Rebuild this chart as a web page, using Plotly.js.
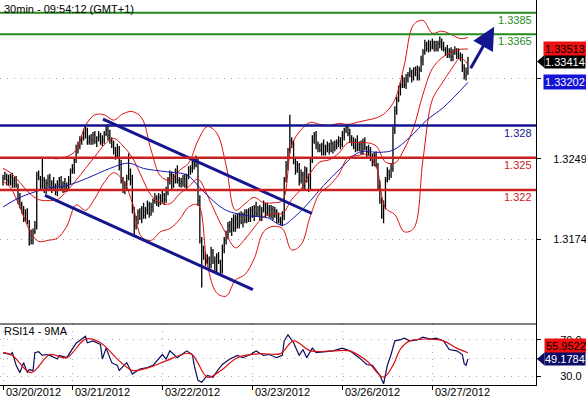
<!DOCTYPE html>
<html><head><meta charset="utf-8">
<script src="https://cdn.plot.ly/plotly-3.0.1.min.js"></script>
<style>html,body{margin:0;padding:0;background:#fff;}#chart{width:586px;height:397px;}</style>
</head><body><div id="chart"></div>
<script>
// ---------- DATA ----------
const chartTitle = '30min - 09:54:12 (GMT+1)';
const rsiTitle = 'RSI14 - 9MA';
const dayIdx = [0, 37, 85, 133, 181, 229];
const dayLabels = ['03/20/2012', '03/21/2012', '03/22/2012', '03/23/2012', '03/26/2012', '03/27/2012'];
const priceTicks = [1.3174, 1.3249, 1.3324];
const priceTickText = ['1.3174', '1.3249', ''];   // 1.3324 sits under the MA tag
const rsiTicks = [30, 50, 70];
const rsiTickText = ['30.0', '', '70.0'];          // 50.0 sits under the RSI tag

const barOpen = [1.3228,1.3231,1.3233,1.3229,1.3227,1.3232,1.3226,1.3229,1.3224,1.3212,
1.3206,1.3201,1.3194,1.3199,1.3190,1.3178,1.3173,1.3181,1.3187,1.3234,
1.3231,1.3224,1.3229,1.3220,1.3226,1.3231,1.3222,1.3227,1.3223,1.3218,
1.3225,1.3229,1.3222,1.3226,1.3221,1.3224,1.3229,1.3237,1.3240,1.3248,
1.3257,1.3262,1.3266,1.3268,1.3273,1.3276,1.3265,1.3268,1.3266,1.3271,
1.3265,1.3268,1.3270,1.3265,1.3267,1.3272,1.3276,1.3271,1.3266,1.3262,
1.3257,1.3252,1.3259,1.3243,1.3229,1.3220,1.3224,1.3231,1.3238,1.3229,
1.3201,1.3187,1.3192,1.3199,1.3194,1.3203,1.3196,1.3201,1.3206,1.3198,
1.3204,1.3210,1.3212,1.3208,1.3213,1.3210,1.3215,1.3211,1.3218,1.3229,
1.3234,1.3224,1.3231,1.3238,1.3229,1.3226,1.3227,1.3231,1.3224,1.3233,
1.3237,1.3240,1.3246,1.3243,1.3248,1.3210,1.3173,1.3164,1.3159,1.3153,
1.3156,1.3150,1.3162,1.3154,1.3147,1.3158,1.3153,1.3145,1.3164,1.3173,
1.3178,1.3187,1.3182,1.3192,1.3184,1.3194,1.3188,1.3196,1.3190,1.3197,
1.3192,1.3199,1.3194,1.3201,1.3196,1.3204,1.3198,1.3202,1.3195,1.3201,
1.3206,1.3199,1.3203,1.3197,1.3202,1.3196,1.3200,1.3194,1.3192,1.3190,
1.3196,1.3229,1.3243,1.3257,1.3266,1.3262,1.3248,1.3238,1.3243,1.3229,
1.3234,1.3224,1.3238,1.3231,1.3224,1.3248,1.3266,1.3271,1.3262,1.3259,
1.3257,1.3262,1.3255,1.3259,1.3261,1.3257,1.3263,1.3259,1.3261,1.3264,
1.3266,1.3262,1.3271,1.3276,1.3278,1.3273,1.3268,1.3265,1.3260,1.3266,
1.3259,1.3262,1.3257,1.3265,1.3259,1.3255,1.3257,1.3250,1.3246,1.3252,
1.3243,1.3224,1.3210,1.3196,1.3206,1.3229,1.3237,1.3234,1.3240,1.3276,
1.3294,1.3304,1.3313,1.3318,1.3322,1.3318,1.3324,1.3327,1.3330,1.3325,
1.3329,1.3332,1.3326,1.3332,1.3341,1.3349,1.3355,1.3352,1.3356,1.3353,
1.3357,1.3354,1.3352,1.3356,1.3358,1.3354,1.3351,1.3350,1.3346,1.3349,
1.3344,1.3348,1.3350,1.3347,1.3345,1.3343,1.3334,1.3327,1.3330];

const barHigh = [1.3234,1.3237,1.3235,1.3234,1.3235,1.3236,1.3232,1.3233,1.3226,1.3217,
1.3209,1.3205,1.3202,1.3203,1.3192,1.3183,1.3184,1.3191,1.3237,1.3238,
1.3233,1.3250,1.3232,1.3230,1.3234,1.3235,1.3229,1.3232,1.3226,1.3229,
1.3232,1.3233,1.3228,1.3231,1.3227,1.3233,1.3240,1.3244,1.3250,1.3262,
1.3265,1.3270,1.3271,1.3277,1.3279,1.3278,1.3271,1.3272,1.3274,1.3275,
1.3270,1.3275,1.3273,1.3271,1.3275,1.3280,1.3281,1.3276,1.3269,1.3266,
1.3260,1.3263,1.3261,1.3248,1.3232,1.3228,1.3234,1.3254,1.3240,1.3234,
1.3204,1.3196,1.3202,1.3203,1.3205,1.3208,1.3204,1.3210,1.3209,1.3208,
1.3212,1.3217,1.3215,1.3217,1.3216,1.3219,1.3217,1.3223,1.3232,1.3238,
1.3237,1.3235,1.3240,1.3243,1.3232,1.3231,1.3234,1.3235,1.3235,1.3242,
1.3243,1.3250,1.3249,1.3252,1.3250,1.3215,1.3176,1.3168,1.3162,1.3160,
1.3158,1.3167,1.3165,1.3158,1.3161,1.3162,1.3155,1.3169,1.3176,1.3182,
1.3190,1.3191,1.3194,1.3197,1.3197,1.3198,1.3199,1.3200,1.3199,1.3202,
1.3202,1.3203,1.3204,1.3205,1.3206,1.3209,1.3205,1.3206,1.3204,1.3210,
1.3208,1.3208,1.3206,1.3206,1.3205,1.3204,1.3202,1.3199,1.3195,1.3200,
1.3232,1.3247,1.3259,1.3290,1.3269,1.3266,1.3251,1.3247,1.3245,1.3239,
1.3237,1.3242,1.3241,1.3235,1.3250,1.3271,1.3274,1.3275,1.3265,1.3263,
1.3264,1.3267,1.3262,1.3265,1.3264,1.3267,1.3265,1.3266,1.3267,1.3270,
1.3269,1.3275,1.3278,1.3281,1.3281,1.3277,1.3271,1.3269,1.3268,1.3271,
1.3265,1.3266,1.3268,1.3269,1.3261,1.3262,1.3260,1.3254,1.3255,1.3256,
1.3245,1.3229,1.3213,1.3210,1.3232,1.3241,1.3239,1.3245,1.3279,1.3298,
1.3307,1.3317,1.3320,1.3327,1.3325,1.3328,1.3330,1.3334,1.3332,1.3334,
1.3335,1.3336,1.3335,1.3345,1.3351,1.3360,1.3358,1.3360,1.3359,1.3361,
1.3359,1.3359,1.3359,1.3363,1.3361,1.3358,1.3353,1.3355,1.3352,1.3353,
1.3351,1.3354,1.3352,1.3352,1.3348,1.3347,1.3337,1.3334,1.3344];

const barLow = [1.3224,1.3229,1.3224,1.3224,1.3224,1.3222,1.3222,1.3222,1.3207,1.3203,
1.3198,1.3190,1.3190,1.3188,1.3168,1.3169,1.3169,1.3179,1.3183,1.3229,
1.3219,1.3221,1.3217,1.3216,1.3222,1.3220,1.3217,1.3220,1.3215,1.3214,
1.3221,1.3220,1.3217,1.3218,1.3218,1.3220,1.3225,1.3235,1.3235,1.3245,
1.3254,1.3258,1.3262,1.3266,1.3268,1.3262,1.3262,1.3262,1.3262,1.3263,
1.3260,1.3265,1.3262,1.3261,1.3263,1.3270,1.3266,1.3263,1.3259,1.3253,
1.3248,1.3250,1.3238,1.3226,1.3217,1.3216,1.3220,1.3229,1.3224,1.3198,
1.3178,1.3183,1.3188,1.3192,1.3189,1.3193,1.3193,1.3197,1.3194,1.3196,
1.3199,1.3207,1.3205,1.3204,1.3206,1.3208,1.3206,1.3208,1.3215,1.3225,
1.3220,1.3222,1.3226,1.3226,1.3223,1.3222,1.3223,1.3222,1.3219,1.3230,
1.3234,1.3236,1.3239,1.3241,1.3205,1.3170,1.3129,1.3155,1.3149,1.3151,
1.3145,1.3147,1.3151,1.3143,1.3143,1.3151,1.3140,1.3142,1.3161,1.3169,
1.3174,1.3180,1.3177,1.3181,1.3181,1.3184,1.3184,1.3188,1.3185,1.3189,
1.3189,1.3190,1.3190,1.3194,1.3191,1.3195,1.3195,1.3191,1.3191,1.3199,
1.3194,1.3196,1.3194,1.3193,1.3192,1.3194,1.3189,1.3189,1.3187,1.3186,
1.3192,1.3227,1.3238,1.3254,1.3259,1.3244,1.3234,1.3236,1.3224,1.3226,
1.3220,1.3220,1.3227,1.3218,1.3219,1.3245,1.3263,1.3258,1.3255,1.3255,
1.3252,1.3252,1.3252,1.3255,1.3253,1.3255,1.3254,1.3256,1.3258,1.3260,
1.3258,1.3260,1.3266,1.3273,1.3270,1.3264,1.3261,1.3258,1.3255,1.3256,
1.3256,1.3253,1.3253,1.3257,1.3250,1.3252,1.3247,1.3242,1.3242,1.3241,
1.3219,1.3207,1.3193,1.3189,1.3202,1.3227,1.3229,1.3231,1.3237,1.3272,
1.3290,1.3302,1.3308,1.3315,1.3315,1.3314,1.3320,1.3325,1.3320,1.3322,
1.3326,1.3322,1.3322,1.3330,1.3336,1.3346,1.3349,1.3348,1.3349,1.3351,
1.3349,1.3349,1.3349,1.3352,1.3350,1.3349,1.3345,1.3343,1.3343,1.3340,
1.3340,1.3346,1.3342,1.3342,1.3340,1.3330,1.3323,1.3322,1.3327];

const barClose = [1.3231,1.3233,1.3229,1.3227,1.3232,1.3226,1.3229,1.3224,1.3212,1.3206,
1.3201,1.3194,1.3199,1.3190,1.3178,1.3173,1.3181,1.3187,1.3234,1.3231,
1.3224,1.3229,1.3220,1.3226,1.3231,1.3222,1.3227,1.3223,1.3218,1.3225,
1.3229,1.3222,1.3226,1.3221,1.3224,1.3229,1.3237,1.3240,1.3248,1.3257,
1.3262,1.3266,1.3268,1.3273,1.3276,1.3265,1.3268,1.3266,1.3271,1.3265,
1.3268,1.3270,1.3265,1.3267,1.3272,1.3276,1.3271,1.3266,1.3262,1.3257,
1.3252,1.3259,1.3243,1.3229,1.3220,1.3224,1.3231,1.3238,1.3229,1.3201,
1.3187,1.3192,1.3199,1.3194,1.3203,1.3196,1.3201,1.3206,1.3198,1.3204,
1.3210,1.3212,1.3208,1.3213,1.3210,1.3215,1.3211,1.3218,1.3229,1.3234,
1.3224,1.3231,1.3238,1.3229,1.3226,1.3227,1.3231,1.3224,1.3233,1.3237,
1.3240,1.3246,1.3243,1.3248,1.3210,1.3173,1.3164,1.3159,1.3153,1.3156,
1.3150,1.3162,1.3154,1.3147,1.3158,1.3153,1.3145,1.3164,1.3173,1.3178,
1.3187,1.3182,1.3192,1.3184,1.3194,1.3188,1.3196,1.3190,1.3197,1.3192,
1.3199,1.3194,1.3201,1.3196,1.3204,1.3198,1.3202,1.3195,1.3201,1.3206,
1.3199,1.3203,1.3197,1.3202,1.3196,1.3200,1.3194,1.3192,1.3190,1.3196,
1.3229,1.3243,1.3257,1.3266,1.3262,1.3248,1.3238,1.3243,1.3229,1.3234,
1.3224,1.3238,1.3231,1.3224,1.3248,1.3266,1.3271,1.3262,1.3259,1.3257,
1.3262,1.3255,1.3259,1.3261,1.3257,1.3263,1.3259,1.3261,1.3264,1.3266,
1.3262,1.3271,1.3276,1.3278,1.3273,1.3268,1.3265,1.3260,1.3266,1.3259,
1.3262,1.3257,1.3265,1.3259,1.3255,1.3257,1.3250,1.3246,1.3252,1.3243,
1.3224,1.3210,1.3196,1.3206,1.3229,1.3237,1.3234,1.3240,1.3276,1.3294,
1.3304,1.3313,1.3318,1.3322,1.3318,1.3324,1.3327,1.3330,1.3325,1.3329,
1.3332,1.3326,1.3332,1.3341,1.3349,1.3355,1.3352,1.3356,1.3353,1.3357,
1.3354,1.3352,1.3356,1.3358,1.3354,1.3351,1.3350,1.3346,1.3349,1.3344,
1.3348,1.3350,1.3347,1.3345,1.3343,1.3334,1.3327,1.3330,1.33414];

const bbIdx = [0,4,9,14,19,24,29,34,39,44,49,54,59,64,69,74,79,84,89,94,99,104,109,114,119,124,129,134,139,144,149,154,159,164,169,174,179,184,189,194,199,204,209,214,219,224,229,234,239,244,248];
const bbUpper = [1.3250,1.3250,1.3250,1.3250,1.3250,1.3250,1.3249,1.3251,1.3257,1.3280,
1.3290,1.3290,1.3285,1.3291,1.3293,1.3287,1.3257,1.3233,1.3229,1.3238,
1.3245,1.3266,1.3279,1.3273,1.3243,1.3201,1.3207,1.3213,1.3208,1.3208,
1.3210,1.3262,1.3276,1.3283,1.3281,1.3280,1.3282,1.3281,1.3283,1.3285,
1.3287,1.3292,1.3304,1.3336,1.3374,1.3378,1.3366,1.3368,1.3365,1.3361,1.3362];
const bbMiddle = [1.3240,1.3236,1.3227,1.3217,1.3211,1.3210,1.3211,1.3219,1.3229,1.3240,
1.3251,1.3262,1.3268,1.3261,1.3250,1.3232,1.3215,1.3208,1.3207,1.3216,
1.3223,1.3230,1.3215,1.3196,1.3179,1.3166,1.3174,1.3185,1.3195,1.3198,
1.3198,1.3211,1.3221,1.3236,1.3246,1.3248,1.3254,1.3264,1.3264,1.3264,
1.3261,1.3246,1.3245,1.3258,1.3278,1.3309,1.3333,1.3343,1.3348,1.3351,1.33513];
const bbLower = [1.3228,1.3222,1.3204,1.3183,1.3172,1.3173,1.3175,1.3186,1.3206,1.3201,
1.3212,1.3227,1.3236,1.3229,1.3208,1.3176,1.3173,1.3181,1.3184,1.3192,
1.3204,1.3206,1.3150,1.3124,1.3121,1.3136,1.3141,1.3156,1.3181,1.3186,
1.3184,1.3164,1.3169,1.3196,1.3217,1.3224,1.3234,1.3250,1.3252,1.3253,
1.3242,1.3203,1.3197,1.3181,1.3184,1.3248,1.3304,1.3319,1.3332,1.3343,1.3337];

// long moving average (thin blue line)
const maIdx = [0,9,25,34,45,57,67,75,87,98,105,112,119,130,141,149,155,162,171,180,190,201,208,217,226,235,248];
const maVal = [1.3204,1.3213,1.3222,1.3224,1.3231,1.3240,1.3245,1.3240,1.3237,1.3234,1.3222,1.3210,1.3201,1.3196,1.3194,1.3187,1.3194,1.3206,1.3224,1.3240,1.3255,1.3255,1.3257,1.3269,1.3285,1.3297,1.33202];

// drawn analysis objects
const trendUpX = [53.3, 164.8], trendUpY = [1.3286, 1.3198];
const trendLoX = [22.4, 133.3], trendLoY = [1.3215, 1.3127];
const arrowX = [249, 262], arrowY = [1.3332, 1.3372];
const greenLevels = [1.3385, 1.3365];
const blueLevels = [1.328];
const redLevels = [1.325, 1.322];
const greenLabels = ['1.3385', '1.3365'];
const blueLabels = ['1.328'];
const redLabels = ['1.325', '1.322'];

// last-value tags
const tagLower = 1.33513, tagLast = 1.33414, tagMA = 1.33202;
const tagRsiMA = 55.9522, tagRsi = 49.1784;

// RSI14 and its 9MA
const rsiIdx = [0,4,5,7,9,11,13,14,16,17,19,21,23,25,29,30,34,37,39,42,44,45,48,52,53,55,58,61,62,66,69,73,77,80,85,87,89,93,98,101,102,104,106,109,112,115,117,121,125,128,132,135,139,142,146,149,150,152,155,158,160,162,165,167,176,181,185,190,194,197,201,203,205,207,209,212,214,217,221,224,228,231,235,238,242,245,246,247,248];
const rsiVal = [56,54,56,42,34,45,34,37.5,36,56,57,53,54,53,49,53,50.5,59.5,66.5,71,74,67,69,65,49,61,45,42,36.5,45,32.5,38,39.7,42,54,49,58,50.5,58,54,42,25.6,23.5,31,29,38,43,49,53,50.5,54,58,53,54,50.5,53,69,75.7,67,53,59.5,50.5,61,56,58,61,58,50.5,43,42,31,21.7,42,54,69,70.3,72,69,70,73,71,72,69,59.5,58,54,44,42,49.1784];
const rsiMaIdx = [0,5,15,25,34,44,52,62,69,78,87,100,109,116,125,137,148,155,164,176,185,194,203,208,212,217,228,235,242,248];
const rsiMaVal = [56,53,34,54,50.5,71,67,47,36.5,39.7,47,55,29,36,50.5,55,55,69,58,58,58,47,29,42,60,69,71,69,61,55.9522];

// ---------- LAYOUT HELPERS ----------
const W = 586, H = 397, MR = 50, MB = 12;
const plotW = W - MR, plotH = H - MB;
const mainBottomPx = 324;
const split = (plotH - mainBottomPx) / plotH;
const px = p => p / plotW;           // pixel x -> paper x
const py = p => (plotH - p) / plotH; // pixel y -> paper y
const FONT = 'Liberation Sans, Arial, sans-serif';
const barIdx = barClose.map((_, i) => i);

const RED = '#dd1010', NAVY = '#15158f', GREEN = '#268a1e', LRED = '#cc2020';

const traces = [
  {type:'scatter', mode:'lines', x:bbIdx, y:bbUpper, line:{color:RED, width:1, shape:'spline'}, xaxis:'x', yaxis:'y'},
  {type:'scatter', mode:'lines', x:bbIdx, y:bbMiddle, line:{color:RED, width:1, shape:'spline'}, xaxis:'x', yaxis:'y'},
  {type:'scatter', mode:'lines', x:bbIdx, y:bbLower, line:{color:RED, width:1, shape:'spline'}, xaxis:'x', yaxis:'y'},
  {type:'scatter', mode:'lines', x:maIdx, y:maVal, line:{color:'#1a1ab0', width:1, shape:'spline'}, xaxis:'x', yaxis:'y'},
  {type:'ohlc', x:barIdx, open:barOpen, high:barHigh, low:barLow, close:barClose,
   increasing:{line:{color:'#000', width:1.3}}, decreasing:{line:{color:'#000', width:1.3}},
   tickwidth:0.4, xaxis:'x', yaxis:'y'},
  {type:'scatter', mode:'lines', x:trendUpX, y:trendUpY, line:{color:NAVY, width:3}, xaxis:'x', yaxis:'y'},
  {type:'scatter', mode:'lines', x:trendLoX, y:trendLoY, line:{color:NAVY, width:3}, xaxis:'x', yaxis:'y'},
  {type:'scatter', mode:'lines', x:rsiIdx, y:rsiVal, line:{color:'#0c0c5c', width:1.2}, xaxis:'x2', yaxis:'y2'},
  {type:'scatter', mode:'lines', x:rsiMaIdx, y:rsiMaVal, line:{color:RED, width:1.2, shape:'spline'}, xaxis:'x2', yaxis:'y2'}
];

const shapes = [];
const annotations = [];
function addLevels(vals, labels, color, width) {
  vals.forEach((v, k) => {
    shapes.push({type:'line', xref:'paper', x0:0, x1:1, yref:'y', y0:v, y1:v, line:{color:color, width:width}, layer:'above'});
    annotations.push({xref:'paper', x:1, xanchor:'right', xshift:-2, yref:'y', y:v, yanchor:'middle', yshift:-7,
      text:labels[k], showarrow:false, font:{family:FONT, size:11, color:color}});
  });
}
addLevels(greenLevels, greenLabels, GREEN, 2);
addLevels(blueLevels, blueLabels, NAVY, 2.5);
addLevels(redLevels, redLabels, LRED, 2.5);

// panel separator
shapes.push({type:'line', xref:'paper', yref:'paper', x0:0, x1:1, y0:split, y1:split, line:{color:'#000', width:1}});

// arrow
annotations.push({xref:'x', yref:'y', x:arrowX[1], y:arrowY[1], axref:'x', ayref:'y', ax:arrowX[0], ay:arrowY[0],
  showarrow:true, arrowhead:2, arrowsize:1.5, arrowwidth:3, arrowcolor:NAVY, text:''});

// titles
annotations.push({xref:'paper', yref:'paper', x:0, y:1, xanchor:'left', yanchor:'top', xshift:2, yshift:-0.5,
  text:chartTitle, showarrow:false, font:{family:FONT, size:11, color:'#000'}});
annotations.push({xref:'paper', yref:'paper', x:0, y:py(331), xanchor:'left', yanchor:'middle', xshift:2,
  text:rsiTitle, showarrow:false, font:{family:FONT, size:11, color:'#000'}});

// date labels
dayIdx.forEach((d, k) => {
  annotations.push({xref:'x', yref:'paper', x:d, y:py(391.5), xanchor:'left', yanchor:'middle', xshift:1,
    text:dayLabels[k], showarrow:false, font:{family:FONT, size:11, color:'#000'}});
});

// value tags
function tag(val, yref, bg, fg, leftPx, yshift, pad) {
  annotations.push({xref:'paper', x:px(leftPx), xanchor:'left', yref:yref, y:val, yanchor:'middle', yshift:yshift,
    text:String(val), showarrow:false, bgcolor:bg, borderpad:pad, font:{family:FONT, size:11, color:fg}});
}
tag(tagLower, 'y', '#ee1111', '#000', 543, 0, 1);
tag(tagLast, 'y', '#000', '#fff', 544, -2, 0);
tag(tagMA, 'y', '#1414d8', '#fff', 543, 0, 1);
tag(tagRsiMA, 'y2', '#ee1111', '#000', 544, 7, 1);
tag(tagRsi, 'y2', '#0c0c66', '#fff', 544, 0, 0);
// arrow tabs on the black / navy tags
function tab(cy, color) {
  shapes.push({type:'path', xref:'paper', yref:'paper', fillcolor:color, line:{width:0},
    path:`M ${px(537)},${py(cy)} L ${px(544.5)},${py(cy-6.5)} L ${px(544.5)},${py(cy+6.5)} Z`});
}
tab(61.5, '#000');
tab(359, '#0c0c66');

const gridStyle = {showgrid:true, gridcolor:'#a8a8a8', griddash:'1px,6px', gridwidth:1};

const layout = {
  width:W, height:H, margin:{l:0, r:MR, t:0, b:MB}, paper_bgcolor:'#fff', plot_bgcolor:'#fff',
  showlegend:false, font:{family:FONT, size:11, color:'#000'},
  xaxis:{domain:[0,1], anchor:'y', range:[-1.6, 284.3], showticklabels:false, ticks:'', showgrid:false,
    zeroline:false, showline:false, rangeslider:{visible:false}},
  xaxis2:Object.assign({domain:[0,1], anchor:'y2', matches:'x', range:[-1.6, 284.3], tickvals:dayIdx, ticks:'outside', ticklen:4,
    tickcolor:'#000', showticklabels:false, zeroline:false, showline:true, linecolor:'#000', linewidth:1}, gridStyle),
  yaxis:Object.assign({domain:[split,1], anchor:'x', side:'right', range:[1.3095, 1.3397], tickvals:priceTicks,
    ticktext:priceTickText, ticks:'outside', ticklen:4, tickcolor:'#000', showline:true,
    linecolor:'#000', linewidth:1, zeroline:false, ticklabelstandoff:10, tickfont:{family:FONT, size:11}}, gridStyle),
  yaxis2:Object.assign({domain:[0,split], anchor:'x2', side:'right', range:[20.4, 87.6], tickvals:rsiTicks,
    ticktext:rsiTickText, ticks:'outside', ticklen:4, tickcolor:'#000', showline:true,
    linecolor:'#000', linewidth:1, zeroline:false, ticklabelstandoff:17, tickfont:{family:FONT, size:11}}, gridStyle),
  shapes:shapes, annotations:annotations
};

Plotly.newPlot('chart', traces, layout, {staticPlot:true, displayModeBar:false});
</script></body></html>
